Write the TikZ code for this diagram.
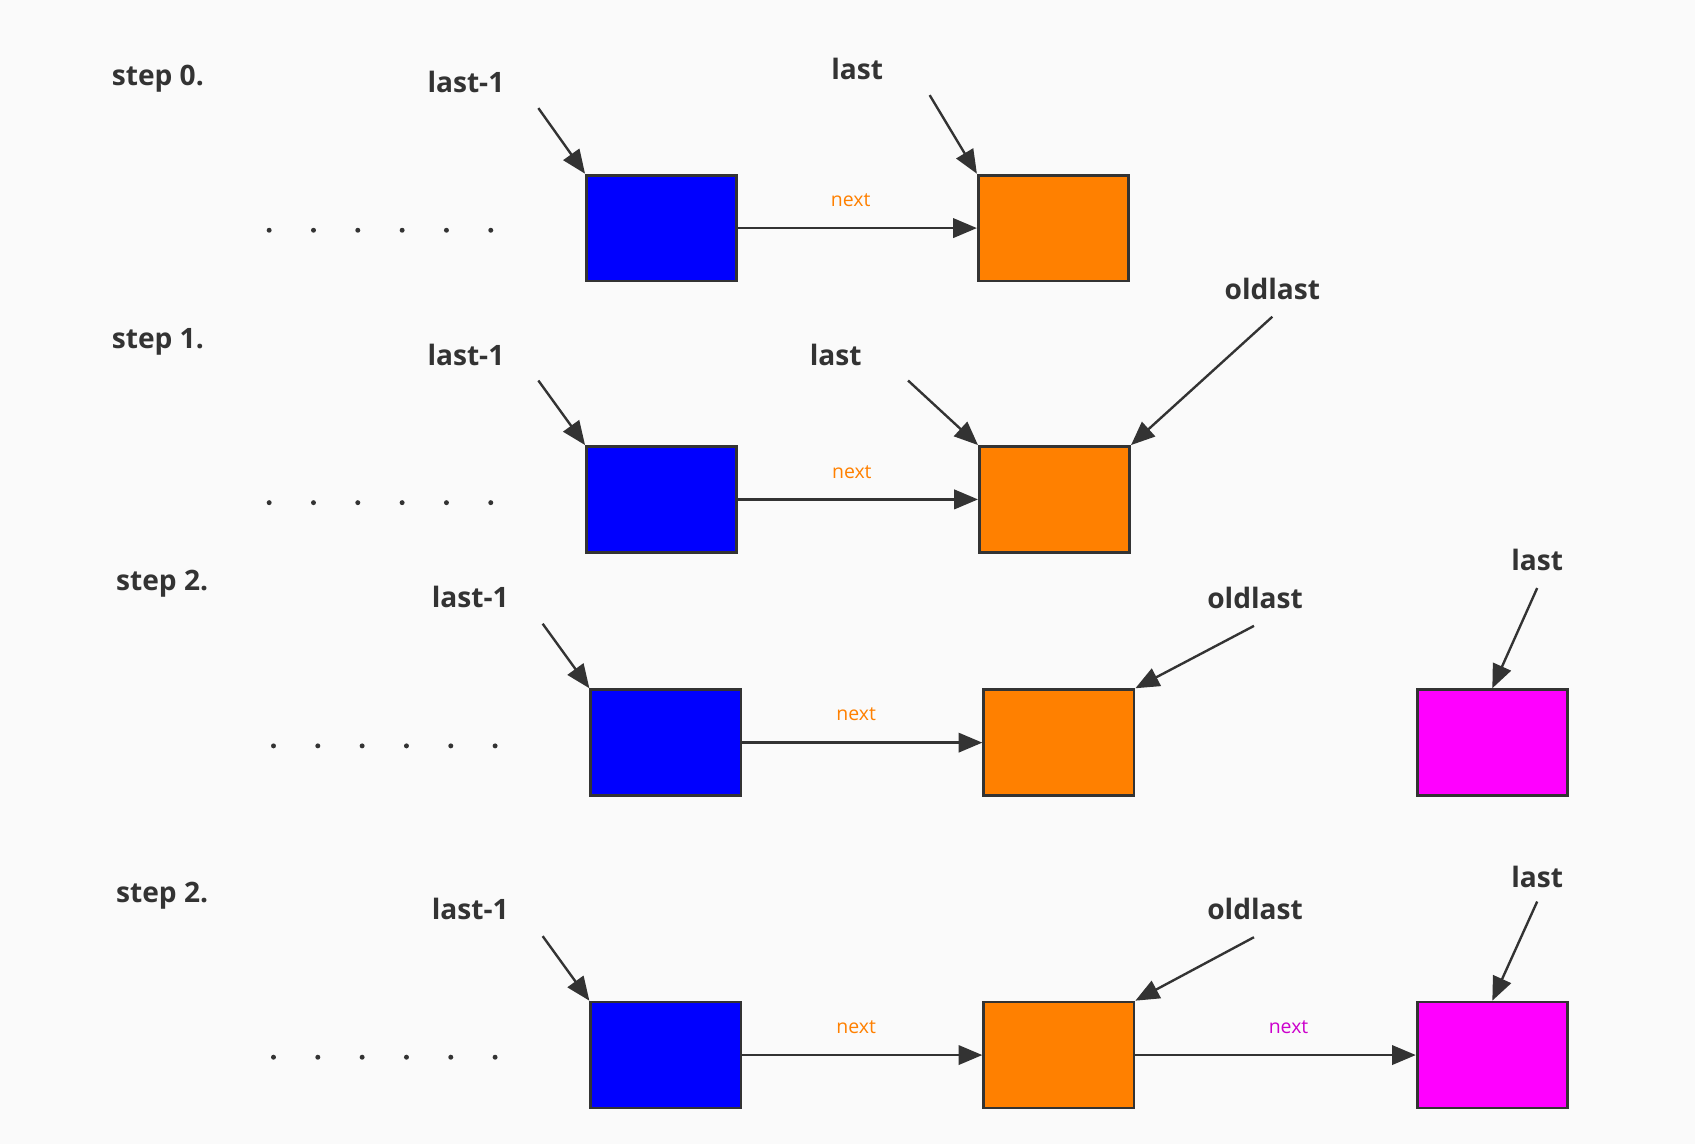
\documentclass[tikz,border=0pt]{standalone}
\usepackage{fontspec}
\setmainfont{Open Sans}
\usetikzlibrary{arrows.meta}
\definecolor{bg}{HTML}{FAFAFA}
\definecolor{ink}{HTML}{333333}
\definecolor{cblue}{HTML}{0000FF}
\definecolor{corange}{HTML}{FF8000}
\definecolor{cmag}{HTML}{FF00FF}
\tikzset{
  cell/.style={draw=ink, line width=1.3pt, minimum width=69.5pt, minimum height=49pt, inner sep=0pt},
  lbl/.style={text=ink, font=\fontsize{13}{15}\selectfont\bfseries, inner sep=0pt},
  nxt/.style={font=\fontsize{9}{11}\selectfont, inner sep=0pt},
  ptr/.style={draw=ink, line width=1.1pt, -{Triangle[length=11pt,width=9pt]}},
  dotmark/.style={fill=ink, draw=none}
}
\begin{document}
\begin{tikzpicture}[x=0.5pt,y=-0.5pt]
\fill[bg] (0,0) rectangle (1568,1058);
\useasboundingbox (0,0) rectangle (1568,1058);

% ---------- row 0 ----------
\node[cell, fill=cblue] (b0) at (612,211) {};
\node[cell, fill=corange] (o0) at (974.5,211) {};
\node[lbl] (s0) at (146,73) {step 0.};
\node[lbl] (l0a) at (431,76) {last-1};
\node[lbl] (l0b) at (793,64) {last};
\node[nxt, text=corange] (n0) at (787,185) {next};
\coordinate (p0a) at (498,100);
\coordinate (p0b) at (860,88);
\draw[ptr] (b0.east) -- (o0.west);
\draw[ptr] (p0a) -- (b0.north west);
\draw[ptr] (p0b) -- (o0.north west);
\foreach \x in {249,290,331,372,413,454} \fill[dotmark] (\x,213) circle (2.3);

% ---------- row 1 ----------
\node[cell, fill=cblue] (b1) at (612,462) {};
\node[cell, fill=corange] (o1) at (975.5,462) {};
\node[lbl] (s1) at (146,316) {step 1.};
\node[lbl] (l1a) at (431,328) {last-1};
\node[lbl] (l1b) at (773,328) {last};
\node[lbl] (l1c) at (1177,267) {oldlast};
\node[nxt, text=corange] (n1) at (788,437) {next};
\coordinate (p1a) at (498,352);
\coordinate (p1b) at (840,352);
\coordinate (p1c) at (1177,293);
\draw[ptr] (b1.east) -- (o1.west);
\draw[ptr] (p1a) -- (b1.north west);
\draw[ptr] (p1b) -- (o1.north west);
\draw[ptr] (p1c) -- (o1.north east);
\foreach \x in {249,290,331,372,413,454} \fill[dotmark] (\x,465) circle (2.3);

% ---------- row 2 ----------
\node[cell, fill=cblue] (b2) at (616,687) {};
\node[cell, fill=corange] (o2) at (979.5,687) {};
\node[cell, fill=cmag] (m2) at (1380.5,687) {};
\node[lbl] (s2) at (150,540) {step 2.};
\node[lbl] (l2a) at (435,552) {last-1};
\node[lbl] (l2c) at (1161,553) {oldlast};
\node[lbl] (l2d) at (1422,518) {last};
\node[nxt, text=corange] (n2) at (792,661) {next};
\coordinate (p2a) at (502,577);
\coordinate (p2c) at (1160,579);
\coordinate (p2d) at (1422,544);
\draw[ptr] (b2.east) -- (o2.west);
\draw[ptr] (p2a) -- (b2.north west);
\draw[ptr] (p2c) -- (o2.north east);
\draw[ptr] (p2d) -- (m2.north);
\foreach \x in {253,294,335,376,417,458} \fill[dotmark] (\x,690) circle (2.3);

% ---------- row 3 ----------
\node[cell, fill=cblue] (b3) at (616,976) {};
\node[cell, fill=corange] (o3) at (979.5,976) {};
\node[cell, fill=cmag] (m3) at (1380.5,976) {};
\node[lbl] (s3) at (150,829) {step 2.};
\node[lbl] (l3a) at (435,841) {last-1};
\node[lbl] (l3c) at (1161,841) {oldlast};
\node[lbl] (l3d) at (1422,811) {last};
\node[nxt, text=corange] (n3) at (792,950) {next};
\node[nxt, text=cmag!80!black] (n3b) at (1192,950) {next};
\coordinate (p3a) at (502,866);
\coordinate (p3c) at (1160,867);
\coordinate (p3d) at (1422,834);
\draw[ptr] (b3.east) -- (o3.west);
\draw[ptr] (o3.east) -- (m3.west);
\draw[ptr] (p3a) -- (b3.north west);
\draw[ptr] (p3c) -- (o3.north east);
\draw[ptr] (p3d) -- (m3.north);
\foreach \x in {253,294,335,376,417,458} \fill[dotmark] (\x,978) circle (2.3);
\end{tikzpicture}
\end{document}
